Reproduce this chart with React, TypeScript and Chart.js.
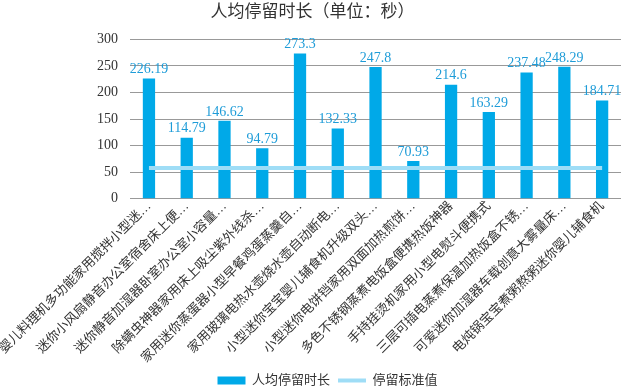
import React, { useEffect, useRef } from "react";
import { Chart, registerables } from "chart.js";

Chart.register(...registerables);

const categories = [
  "婴儿料理机多功能家用搅拌小型迷…",
  "迷你小风扇静音办公室宿舍床上便…",
  "迷你静音加湿器卧室办公室小容量…",
  "除螨虫神器家用床上吸尘紫外线杀…",
  "家用迷你蒸蛋器小型早餐鸡蛋蒸羹自…",
  "家用玻璃电热水壶烧水壶自动断电…",
  "小型迷你宝宝婴儿辅食机升级双头…",
  "小型迷你电饼铛家用双面加热煎饼…",
  "多色不锈钢蒸煮电饭盒便携热饭神器",
  "手持挂烫机家用小型电熨斗便携式",
  "三层可插电蒸煮保温加热饭盒不锈…",
  "可爱迷你加湿器车载创意大雾量床…",
  "电炖锅宝宝煮粥熬粥迷你婴儿辅食机",
];
const avgStay = [226.19, 114.79, 146.62, 94.79, 273.3, 132.33, 247.8, 70.93, 214.6, 163.29, 237.48, 248.29, 184.71];
const standardValue = [58, 58, 58, 58, 58, 58, 58, 58, 58, 58, 58, 58, 58];
const yTicks = [0, 50, 100, 150, 200, 250, 300];

const FONT = "'Liberation Serif', 'Noto Sans CJK SC', serif";
const BAR = "#00A9E8";
const LINE = "#9FDDF6";
const LABEL = "#1E9CD8";

const valueLabels = {
  id: "valueLabels",
  afterDatasetsDraw(chart: any) {
    const ctx = chart.ctx;
    const meta = chart.getDatasetMeta(0);
    ctx.save();
    ctx.font = `14px ${FONT}`;
    ctx.fillStyle = LABEL;
    ctx.textAlign = "center";
    ctx.textBaseline = "bottom";
    meta.data.forEach((el: any, i: number) => {
      ctx.fillText(String(avgStay[i]), el.x, el.y - 2);
    });
    ctx.restore();
  },
};

const legendShift = {
  id: "legendShift",
  afterLayout(chart: any) {
    if (chart.legend) {
      chart.legend.left += 15;
      chart.legend.right += 15;
    }
  },
};

export default function App() {
  const ref = useRef<HTMLCanvasElement | null>(null);
  useEffect(() => {
    document.body.style.margin = "0";
    const chart = new Chart(ref.current!, {
      type: "bar",
      data: {
        labels: categories,
        datasets: [
          {
            type: "bar",
            label: "人均停留时长",
            data: avgStay,
            backgroundColor: BAR,
            borderWidth: 0,
            barPercentage: 0.65,
            categoryPercentage: 0.5,
            order: 2,
          },
          {
            type: "line",
            label: "停留标准值",
            data: standardValue,
            borderColor: LINE,
            backgroundColor: LINE,
            borderWidth: 4,
            pointRadius: 0,
            order: 1,
          } as any,
        ],
      },
      options: {
        animation: false,
        responsive: false,
        maintainAspectRatio: false,
        layout: { padding: { left: 4, right: 6, top: 0, bottom: 0 } },
        plugins: {
          title: {
            display: true,
            text: "人均停留时长（单位：秒）",
            color: "#333",
            font: { family: FONT, size: 17, weight: "normal" },
            padding: { top: 2, bottom: 17 },
          },
          legend: {
            position: "bottom",
            labels: {
              color: "#333",
              font: { family: FONT, size: 13 },
              usePointStyle: true,
              pointStyleWidth: 28,
              boxWidth: 28,
              boxHeight: 8,
              padding: 8,
              generateLabels: (chart: any) =>
                chart.data.datasets.map((ds: any, i: number) => ({
                  text: ds.label,
                  fillStyle: ds.backgroundColor,
                  strokeStyle: ds.borderColor || ds.backgroundColor,
                  lineWidth: i === 0 ? 0 : 4,
                  pointStyle: i === 0 ? "rect" : "line",
                  fontColor: "#333",
                  hidden: false,
                  datasetIndex: i,
                })),
            },
          },
          tooltip: { enabled: false },
        },
        scales: {
          x: {
            grid: { display: false, drawTicks: false },
            border: { display: false },
            ticks: {
              color: "#333",
              font: { family: FONT, size: 13 },
              minRotation: 45,
              maxRotation: 45,
              autoSkip: false,
              padding: 0,
            },
          },
          y: {
            min: 0,
            max: 300,
            afterBuildTicks: (axis: any) => {
              axis.ticks = yTicks.map((v) => ({ value: v }));
            },
            grid: { color: "#999", lineWidth: 1, drawTicks: false },
            border: { display: false },
            ticks: {
              color: "#333",
              font: { family: FONT, size: 14 },
              padding: 12,
            },
          },
        },
      },
      plugins: [valueLabels, legendShift],
    });
    return () => chart.destroy();
  }, []);
  return (
    <div style={{ position: "absolute", left: 0, top: 0, width: 627, height: 388, overflow: "hidden" }}>
      <canvas ref={ref} width={627} height={397} style={{ width: 627, height: 397 }} />
    </div>
  );
}
